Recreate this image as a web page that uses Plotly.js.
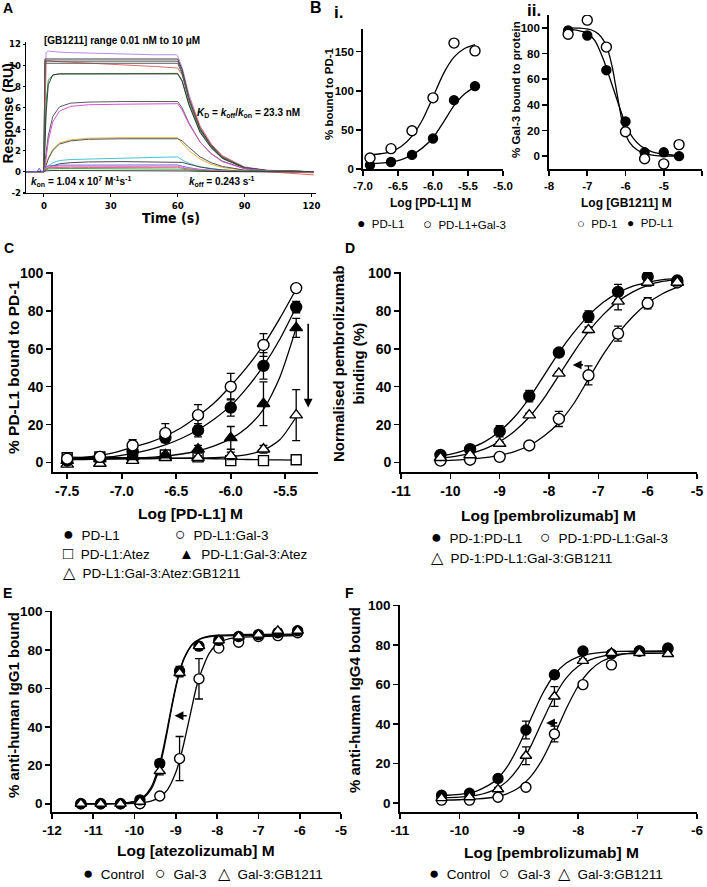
<!DOCTYPE html>
<html><head><meta charset="utf-8">
<script src="https://cdn.plot.ly/plotly-3.0.1.min.js"></script>
<style>html,body{margin:0;padding:0;background:#fff}#g{width:707px;height:887px}</style>
</head><body><div id="g"></div>
<script>
// ---------------- DATA ----------------
// Panel A (SPR sensorgrams)
const A_time = [-8, 0, 0.5, 1, 2, 4, 7, 12, 20, 35, 50, 59.5, 60, 62, 65, 70, 75, 80, 90, 100, 110, 121];
const A_s1  = [0, 0, 6, 11.2, 11.35, 11.3, 11.25, 11.2, 11.15, 11.1, 11.0, 11.0, 10.9, 9.8, 7.3, 4.3, 2.6, 1.5, 0.45, 0.15, 0.05, 0.0];
const A_s2  = [0, 0, 10.6, 10.6, 10.6, 10.6, 10.6, 10.6, 10.6, 10.6, 10.6, 10.6, 10.6, 9.6, 7.0, 4.1, 2.5, 1.4, 0.4, 0.12, 0.04, 0.0];
const A_s3  = [0, 0, 5, 10.5, 10.45, 10.4, 10.35, 10.3, 10.2, 10.05, 9.9, 9.8, 9.75, 9.1, 7.0, 4.3, 2.6, 1.5, 0.4, 0.0, -0.15, -0.3];
const A_s4  = [0, 0, 10.4, 10.4, 10.4, 10.4, 10.4, 10.4, 10.4, 10.4, 10.4, 10.4, 10.4, 9.4, 6.9, 4.0, 2.45, 1.35, 0.38, 0.1, 0.03, 0];
const A_s5  = [0, 0, 10.2, 10.2, 10.2, 10.2, 10.2, 10.2, 10.2, 10.2, 10.2, 10.2, 10.2, 9.2, 6.7, 3.9, 2.4, 1.3, 0.37, 0.1, 0.03, 0];
const A_s6  = [0, 0, 3, 6.5, 8.6, 9.1, 9.2, 9.2, 9.2, 9.25, 9.25, 9.25, 9.25, 8.6, 6.4, 3.8, 2.3, 1.3, 0.35, 0.1, 0.02, 0];
const A_s7  = [0, 0, 2.5, 5.5, 8.2, 9.1, 9.2, 9.2, 9.2, 9.2, 9.2, 9.2, 9.2, 8.5, 6.3, 3.7, 2.25, 1.25, 0.35, 0.1, 0.03, 0];
const A_s8  = [0, 0, 0.9, 1.9, 3.4, 5.2, 6.1, 6.45, 6.55, 6.6, 6.6, 6.6, 6.6, 6.0, 4.6, 2.8, 1.7, 1.0, 0.3, 0.09, 0.03, 0];
const A_s9  = [0, 0, 0.4, 1.3, 2.9, 4.7, 5.7, 6.15, 6.3, 6.35, 6.4, 6.4, 6.4, 5.8, 4.5, 2.8, 1.7, 0.95, 0.28, 0.08, 0.02, 0];
const A_s10 = [0, 0, 0.3, 0.7, 1.3, 2.1, 2.7, 3.0, 3.15, 3.2, 3.2, 3.2, 3.2, 2.7, 2.0, 1.2, 0.7, 0.4, 0.12, 0.04, 0, 0];
const A_s11 = [0, 0, 0.3, 0.6, 1.2, 2.0, 2.6, 2.9, 3.05, 3.1, 3.1, 3.1, 3.1, 2.9, 2.3, 1.4, 0.85, 0.5, 0.15, 0.05, 0.02, 0];
const A_s12 = [0, 0, 0.1, 0.3, 0.55, 0.85, 1.05, 1.15, 1.2, 1.3, 1.35, 1.4, 1.4, 1.1, 0.8, 0.45, 0.28, 0.16, 0.05, 0.02, 0, 0];
const A_s13 = [0, 0, 0.1, 0.2, 0.35, 0.55, 0.75, 0.85, 0.92, 0.95, 0.95, 0.95, 0.95, 0.88, 0.7, 0.45, 0.28, 0.17, 0.05, 0.02, 0, 0];
const A_s14 = [0, 0, 0.25, 0.45, 0.55, 0.6, 0.62, 0.62, 0.63, 0.63, 0.64, 0.64, 0.64, 0.52, 0.38, 0.22, 0.13, 0.08, 0.02, 0, 0, 0];
const A_s15 = [0, 0, 0.2, 0.35, 0.45, 0.5, 0.52, 0.52, 0.5, 0.5, 0.52, 0.52, 0.52, 0.42, 0.3, 0.18, 0.1, 0.06, 0.02, 0, 0, 0];
const A_s16 = [0, 0, 0.15, 0.3, 0.38, 0.4, 0.42, 0.42, 0.4, 0.4, 0.42, 0.42, 0.42, 0.33, 0.24, 0.14, 0.08, 0.05, 0.02, 0, -0.05, -0.1];
const A_s17 = [0, 0, 0.1, 0.2, 0.27, 0.3, 0.3, 0.3, 0.3, 0.3, 0.3, 0.3, 0.3, 0.24, 0.17, 0.1, 0.06, 0.04, 0.01, 0, 0, 0];
const A_s18 = [0, 0, 0.05, 0.08, 0.1, 0.12, 0.12, 0.12, 0.12, 0.12, 0.12, 0.12, 0.12, 0.1, 0.07, 0.04, 0.02, 0.01, 0, 0, 0, 0];
const A_bump_t = [-8, -3, -2, -1.3, 0];
const A_bump_v = [0, 0.02, 0.35, 0.02, 0];
const A_xticks = ['0', '30', '60', '90', '120'];
const A_yticks = ['-2', '0', '2', '4', '6', '8', '10', '12'];

// Panel B i
const Bi_x = [-6.9, -6.6, -6.3, -6.0, -5.7, -5.4];
const Bi_pdl1 = [5, 9, 18, 39, 88, 106];
const Bi_pdl1gal3 = [14, 26, 49, 91, 161, 151];
const Bi_fit_x = [-6.9, -6.75, -6.6, -6.45, -6.3, -6.15, -6.0, -5.85, -5.7, -5.55, -5.4];
const Bi_fit_pdl1 = [7, 7.5, 9, 12, 18, 27, 40, 60, 81, 96, 105];
const Bi_fit_pdl1gal3 = [18, 19.5, 22, 29, 42, 63, 92, 122, 143, 154, 159];
const Bi_names = ['PD-L1', 'PD-L1+Gal-3'];
const Bi_xticks = ['-7.0', '-6.5', '-6.0', '-5.5', '-5.0'];
const Bi_yticks = ['0', '50', '100', '150'];

// Panel B ii
const Bii_x = [-7.5, -7.0, -6.5, -6.0, -5.5, -5.0, -4.6];
const Bii_pd1 = [95, 106, 85, 19, -2, -6, 9];
const Bii_pdl1 = [98, 94, 67, 27, 3, 3, 0];
const Bii_fit_x_pd1 = [-7.5, -7.2, -6.9, -6.7, -6.5, -6.35, -6.2, -6.05, -5.9, -5.7, -5.5, -5.2, -4.6];
const Bii_fit_pd1 = [100, 99.8, 98.5, 95, 86, 70, 45, 22, 11, 5, 2, 0.5, 0];
const Bii_fit_x_pdl1 = [-7.5, -7.25, -7.0, -6.8, -6.6, -6.4, -6.2, -6.0, -5.8, -5.6, -5.35, -5.0, -4.6];
const Bii_fit_pdl1 = [99, 98, 96, 90, 77, 60, 42, 25, 14, 8, 4, 1.5, 0.5];
const Bii_names = ['PD-1', 'PD-L1'];
const Bii_xticks = ['-8', '-7', '-6', '-5', '-4'];
const Bii_yticks = ['0', '20', '40', '60', '80', '100'];

// Panel C
const C_x = [-7.5, -7.2, -6.9, -6.6, -6.3, -6.0, -5.7, -5.4];
const C_pdl1 = [1, 3, 6, 13, 17, 29, 51, 82];
const C_pdl1_err = [0.5, 1, 2, 1.5, 3.5, 4.5, 7, 3];
const C_gal3 = [2, 3, 9, 15.5, 25, 40, 62, 92];
const C_gal3_err = [0.5, 1, 3, 5, 5.5, 7, 6, 1];
const C_atez = [2.5, 3, 3, 4, 3, 1, 1, 1.5];
const C_atez_err = [1.5, 1, 0.5, 2, 1, 0.5, 0.5, 0.5];
const C_gal3atez = [1, 2, 3, 4, 7, 13, 31, 71];
const C_gal3atez_err = [1, 1, 1, 1, 2, 6, 11.5, 5];
const C_gb1211 = [-1, -0.5, 1, 2.5, 2.5, 3.5, 7, 25];
const C_gb1211_err = [1, 1, 1, 1, 1, 2, 2, 13.5];
const C_fit_x = [-7.5, -7.35, -7.2, -7.05, -6.9, -6.75, -6.6, -6.45, -6.3, -6.15, -6.0, -5.85, -5.7, -5.55, -5.4];
const C_fit_pdl1 = [1.5, 1.9, 2.5, 3.4, 4.8, 6.7, 9.3, 12.8, 17.3, 23, 30, 39.5, 51, 65, 82];
const C_fit_gal3 = [2, 2.7, 3.8, 5.5, 8, 10.5, 14, 18.5, 24.5, 31.5, 40.5, 50.5, 62, 76, 91.5];
const C_fit_atez = [2.8, 2.75, 2.7, 2.65, 2.6, 2.5, 2.4, 2.3, 2.2, 2.0, 1.8, 1.6, 1.5, 1.4, 1.3];
const C_fit_gal3atez = [1.5, 1.6, 1.7, 1.9, 2.2, 2.7, 3.4, 4.5, 6.2, 8.8, 12.6, 18.5, 28, 45, 71];
const C_fit_gb1211 = [2, 2, 2, 2, 2, 2, 2.1, 2.2, 2.3, 2.6, 3.1, 4.2, 6.5, 12, 24];
const C_names = ['PD-L1', 'PD-L1:Gal-3', 'PD-L1:Atez', 'PD-L1:Gal-3:Atez', 'PD-L1:Gal-3:Atez:GB1211'];
const C_xticks = ['-7.5', '-7.0', '-6.5', '-6.0', '-5.5'];
const C_yticks = ['0', '20', '40', '60', '80', '100'];

// Panel D
const D_x = [-10.2, -9.6, -9.0, -8.4, -7.8, -7.2, -6.6, -6.0, -5.4];
const D_pdl1 = [4, 7, 16.5, 35, 58, 77, 90, 98, 96];
const D_pdl1_err = [1.5, 1, 3, 3, 1.5, 3, 4, 2, 1];
const D_gal3 = [1, 1.5, 3, 9, 23, 46, 68, 84, 95];
const D_gal3_err = [0.5, 0.5, 0.5, 1, 4, 5, 4, 3, 1];
const D_gb = [2.5, 4, 10, 25, 47, 70, 85, 95, 95];
const D_gb_err = [1, 1, 1, 1, 1, 1.5, 4.5, 2, 1];
const D_fit_x = [-10.2, -9.9, -9.6, -9.3, -9.0, -8.7, -8.4, -8.1, -7.8, -7.5, -7.2, -6.9, -6.6, -6.3, -6.0, -5.7, -5.4];
const D_fit_pdl1 = [3.5, 5, 7.5, 11, 16.5, 24, 34, 46, 58, 68.5, 77.5, 84.5, 89.5, 93, 95, 96.5, 97];
const D_fit_gb = [2.2, 3.2, 4.8, 7.2, 11, 16.5, 24, 34, 46, 58, 69, 78, 85, 90, 93.5, 95.5, 96.5];
const D_fit_gal3 = [1, 1.3, 1.8, 2.6, 3.8, 5.8, 9, 14, 21, 31, 44, 57, 68, 77, 84, 89, 92.5];
const D_names = ['PD-1:PD-L1', 'PD-1:PD-L1:Gal-3', 'PD-1:PD-L1:Gal-3:GB1211'];
const D_xticks = ['-11', '-10', '-9', '-8', '-7', '-6', '-5'];
const D_yticks = ['0', '20', '40', '60', '80', '100'];

// Panel E
const E_x = [-11.3, -10.82, -10.34, -9.87, -9.39, -8.91, -8.44, -7.96, -7.48, -7.0, -6.53, -6.05];
const E_ctrl = [0, 0, 0, 2, 21, 69, 82, 85, 87, 88, 89, 90];
const E_ctrl_err = [0.5, 0.5, 0.5, 1, 2, 2.5, 1.5, 1, 1, 1, 1, 1];
const E_gal3 = [0, 0, 0, 0, 4, 23.5, 65, 81, 84, 87, 87.5, 89];
const E_gal3_err = [0.5, 0.5, 0.5, 0.5, 1, 11.5, 10.5, 1.5, 1, 1, 1, 1];
const E_gb = [0, 0, 0, 1, 17, 68, 82, 85, 87, 88, 90, 90];
const E_gb_err = [0.5, 0.5, 0.5, 0.5, 2, 2, 2, 1, 1, 1, 1, 1];
const E_fit_x = [-11.3, -10.5, -10.0, -9.8, -9.6, -9.4, -9.3, -9.2, -9.1, -9.0, -8.9, -8.8, -8.6, -8.4, -8.2, -8.0, -7.5, -7.0, -6.05];
const E_fit_ctrl = [0, 0.1, 1.2, 3.3, 8.5, 20.3, 29.2, 40, 51, 61.3, 69.7, 75.8, 82.9, 85.8, 86.9, 87.3, 87.5, 87.6, 87.7];
const E_fit_gb = [0, 0.1, 1, 2.8, 7.5, 18.5, 27.5, 38.5, 50, 60.5, 69, 75.5, 83, 86, 87.2, 87.7, 88, 88.1, 88.2];
const E_fit_x_gal3 = [-11.3, -10.5, -10.0, -9.8, -9.6, -9.4, -9.2, -9.0, -8.9, -8.8, -8.7, -8.6, -8.5, -8.4, -8.2, -8.0, -7.7, -7.4, -7.0, -6.05];
const E_fit_gal3 = [0, 0.05, 0.23, 0.57, 1.4, 3.3, 7.4, 16.4, 23.3, 32, 41.6, 51.5, 60.9, 67.7, 78, 83.1, 85.9, 86.6, 87.0, 87.5];
const E_names = ['Control', 'Gal-3', 'Gal-3:GB1211'];
const E_xticks = ['-12', '-11', '-10', '-9', '-8', '-7', '-6', '-5'];
const E_yticks = ['0', '20', '40', '60', '80', '100'];

// Panel F
const F_x = [-10.3, -9.83, -9.35, -8.88, -8.4, -7.92, -7.44, -6.97, -6.49];
const F_ctrl = [4, 5, 12.5, 37, 65, 77, 75.5, 77, 78];
const F_ctrl_err = [1, 1, 1, 4.5, 1.5, 1, 1, 1, 1];
const F_gal3 = [1.5, 1.5, 3, 8, 35, 60, 70, 77, 78.5];
const F_gal3_err = [0.5, 0.5, 0.5, 0.5, 4, 1, 1, 1, 1];
const F_gb = [2.5, 3, 7, 24, 54, 72, 76, 76, 75.5];
const F_gb_err = [0.5, 0.5, 1, 4.5, 5, 1, 1, 1, 1];
const F_fit_x = [-10.3, -10.0, -9.7, -9.4, -9.2, -9.0, -8.8, -8.6, -8.4, -8.2, -8.0, -7.8, -7.6, -7.3, -7.0, -6.49];
const F_fit_ctrl = [3.8, 4.4, 6.2, 11.2, 18.2, 29, 42.5, 55.4, 65, 70.9, 74, 75.5, 76.3, 76.8, 76.9, 77];
const F_fit_gb = [2.7, 3.0, 4.0, 6.9, 11.0, 18.1, 28.7, 41.7, 54, 63.4, 69.3, 72.5, 74.3, 75.4, 75.8, 76];
const F_fit_gal3 = [1.5, 1.7, 2.1, 3.1, 4.7, 7.8, 13.4, 22.3, 34.5, 47.9, 59.3, 67.1, 71.8, 75.1, 76.3, 76.9];
const F_names = ['Control', 'Gal-3', 'Gal-3:GB1211'];
const F_xticks = ['-11', '-10', '-9', '-8', '-7', '-6'];
const F_yticks = ['0', '20', '40', '60', '80', '100'];

// ---------------- STYLE / LAYOUT ----------------
const W = 707, H = 887;
const FONT = 'Liberation Sans, Arial, sans-serif';
const NARROW = 'DejaVu Sans Condensed, Liberation Sans Narrow, Arial Narrow, Liberation Sans, sans-serif';
const px = v => v / W;
const py = v => 1 - v / H;

function axis(l, r, range, anchor, tickvals, ticktext, fs, extra) {
  return Object.assign({
    domain: [px(l), px(r)], range: range, anchor: anchor,
    showline: true, linecolor: '#000', linewidth: 1.8, mirror: false,
    ticks: 'outside', ticklen: 5, tickwidth: 1.6, tickcolor: '#000',
    showgrid: false, zeroline: false, fixedrange: true,
    tickmode: 'array', tickvals: tickvals, ticktext: ticktext,
    tickfont: {family: FONT, size: fs, color: '#000', weight: 700}
  }, extra || {});
}
function yaxis(t, b, range, anchor, tickvals, ticktext, fs, extra) {
  const a = axis(0, 1, range, anchor, tickvals, ticktext, fs, extra);
  a.domain = [py(b), py(t)];
  return a;
}
const num = arr => arr.map(Number);
const A_tickfont = {family: NARROW, size: 9.5, color: '#000', weight: 700};

const layout = {
  width: W, height: H, margin: {l: 0, r: 0, t: 0, b: 0},
  paper_bgcolor: '#fff', plot_bgcolor: 'rgba(0,0,0,0)', showlegend: false,
  xaxis:  axis(26, 316, [-8, 122], 'y', num(A_xticks), A_xticks, 10, {tickfont: A_tickfont, ticklen: 3, linewidth: 1.1, tickwidth: 1.1}),
  yaxis:  yaxis(42, 193, [-2, 12.2], 'x', num(A_yticks), A_yticks, 10, {tickfont: A_tickfont, ticklen: 2, linewidth: 1.1, tickwidth: 1.1}),
  xaxis2: axis(363, 503, [-7, -5], 'y2', num(Bi_xticks), Bi_xticks, 11.5),
  yaxis2: yaxis(29, 169, [0, 179], 'x2', num(Bi_yticks), Bi_yticks, 11.5),
  xaxis3: axis(549, 702, [-8, -4], 'y3', num(Bii_xticks), Bii_xticks, 11.5),
  yaxis3: yaxis(15, 169, [-10, 110], 'x3', num(Bii_yticks), Bii_yticks, 11.5),
  xaxis4: axis(53, 318, [-7.63, -5.2], 'y4', num(C_xticks), C_xticks, 14),
  yaxis4: yaxis(272, 472, [-5, 100.5], 'x4', num(C_yticks), C_yticks, 14),
  xaxis5: axis(401, 697, [-11, -5], 'y5', num(D_xticks), D_xticks, 14),
  yaxis5: yaxis(272, 472, [-5, 100.5], 'x5', num(D_yticks), D_yticks, 14),
  xaxis6: axis(52, 341, [-12, -5], 'y6', num(E_xticks), E_xticks, 13.5),
  yaxis6: yaxis(611, 812, [-4.3, 100.3], 'x6', num(E_yticks), E_yticks, 13.5),
  xaxis7: axis(400, 697, [-11, -6], 'y7', num(F_xticks), F_xticks, 13.5),
  yaxis7: yaxis(605, 812, [-4.5, 100.3], 'x7', num(F_yticks), F_yticks, 13.5),
  annotations: []
};

// ---------------- TRACES ----------------
const traces = [];
// Panel A
const A_series = [A_s1, A_s2, A_s3, A_s4, A_s5, A_s6, A_s7, A_s8, A_s9, A_s10, A_s11, A_s12, A_s13, A_s14, A_s15, A_s16, A_s17, A_s18];
const A_colors = ['#b98be3', '#3a3a3a', '#e26a6a', '#4a4a4a', '#5a5a5a', '#2f9a3f', '#3a3a3a', '#5a5a5a', '#d455d4', '#e2b43a', '#555555', '#43c6d6', '#4a4a4a', '#6f63e0', '#e37ae3', '#e06868', '#46a646', '#333333'];
A_series.forEach((s, i) => traces.push({x: A_time, y: s, mode: 'lines', line: {color: A_colors[i], width: 1}, xaxis: 'x', yaxis: 'y', hoverinfo: 'skip'}));
traces.push({x: A_bump_t, y: A_bump_v, mode: 'lines', line: {color: '#7a5ae0', width: 1}, xaxis: 'x', yaxis: 'y'});

function fit(x, y, ax) {
  traces.push({x: x, y: y, mode: 'lines', line: {color: '#000', width: 1.3, shape: 'spline', smoothing: 0.7}, xaxis: 'x' + ax, yaxis: 'y' + ax, hoverinfo: 'skip'});
}
function pts(x, y, err, ax, symbol, filled, size) {
  const t = {x: x, y: y, mode: 'markers', xaxis: 'x' + ax, yaxis: 'y' + ax,
    marker: {symbol: symbol, size: size, color: filled ? '#000' : '#fff', line: {color: '#000', width: 1.4}}};
  if (err) t.error_y = {type: 'data', array: err, visible: true, color: '#000', thickness: 1.3, width: 4};
  traces.push(t);
}
// Bi
fit(Bi_fit_x, Bi_fit_pdl1, 2); fit(Bi_fit_x, Bi_fit_pdl1gal3, 2);
pts(Bi_x, Bi_pdl1, null, 2, 'circle', true, 9);
pts(Bi_x, Bi_pdl1gal3, null, 2, 'circle', false, 10);
// Bii
fit(Bii_fit_x_pd1, Bii_fit_pd1, 3); fit(Bii_fit_x_pdl1, Bii_fit_pdl1, 3);
pts(Bii_x, Bii_pdl1, null, 3, 'circle', true, 9);
pts(Bii_x, Bii_pd1, null, 3, 'circle', false, 10);
// C
fit(C_fit_x, C_fit_gal3, 4); fit(C_fit_x, C_fit_pdl1, 4); fit(C_fit_x, C_fit_gal3atez, 4);
fit(C_fit_x, C_fit_gb1211, 4); fit(C_fit_x, C_fit_atez, 4);
pts(C_x, C_atez, C_atez_err, 4, 'square', false, 10);
pts(C_x, C_gb1211, C_gb1211_err, 4, 'triangle-up', false, 11);
pts(C_x, C_gal3atez, C_gal3atez_err, 4, 'triangle-up', true, 11);
pts(C_x, C_pdl1, C_pdl1_err, 4, 'circle', true, 11);
pts(C_x, C_gal3, C_gal3_err, 4, 'circle', false, 11);
// D
fit(D_fit_x, D_fit_pdl1, 5); fit(D_fit_x, D_fit_gb, 5); fit(D_fit_x, D_fit_gal3, 5);
pts(D_x, D_gal3, D_gal3_err, 5, 'circle', false, 11);
pts(D_x, D_pdl1, D_pdl1_err, 5, 'circle', true, 11);
pts(D_x, D_gb, D_gb_err, 5, 'triangle-up', false, 11);
// E
fit(E_fit_x, E_fit_ctrl, 6); fit(E_fit_x, E_fit_gb, 6); fit(E_fit_x_gal3, E_fit_gal3, 6);
pts(E_x, E_gal3, E_gal3_err, 6, 'circle', false, 10);
pts(E_x, E_ctrl, E_ctrl_err, 6, 'circle', true, 10);
pts(E_x, E_gb, E_gb_err, 6, 'triangle-up', false, 10);
// F
fit(F_fit_x, F_fit_ctrl, 7); fit(F_fit_x, F_fit_gb, 7); fit(F_fit_x, F_fit_gal3, 7);
pts(F_x, F_gal3, F_gal3_err, 7, 'circle', false, 10);
pts(F_x, F_ctrl, F_ctrl_err, 7, 'circle', true, 10);
pts(F_x, F_gb, F_gb_err, 7, 'triangle-up', false, 10);

// ---------------- ANNOTATIONS ----------------
const A = layout.annotations;
function txt(text, x, y, size, opts) {
  A.push(Object.assign({text: text, x: px(x), y: py(y), xref: 'paper', yref: 'paper', showarrow: false,
    xanchor: 'center', yanchor: 'middle', font: {family: FONT, size: size, color: '#000'}}, opts || {}));
}
const bold = (s, f) => ({font: {family: f || FONT, size: s, color: '#000', weight: 700}});
function btxt(text, x, y, size, opts) { txt(text, x, y, size, Object.assign(bold(size), opts || {})); }
function rot(text, x, y, size) { btxt(text, x, y, size, {textangle: -90}); }
const NB = '\u00a0';
function leg(g, gsize, label, left, y, size) {
  txt('<span style="font-size:' + gsize + 'px">' + g + '</span>' + NB + NB + label, left, y, size, {xanchor: 'left'});
}
function arrow(axn, hx, hy, tx, ty) {
  A.push({xref: 'x' + axn, yref: 'y' + axn, axref: 'x' + axn, ayref: 'y' + axn, x: hx, y: hy, ax: tx, ay: ty,
    text: '', showarrow: true, arrowhead: 2, arrowsize: 1.1, arrowwidth: 1.6, arrowcolor: '#000'});
}

// panel letters
btxt('A', 8, 8, 14); btxt('B', 316, 8, 16); btxt('i.', 338, 12, 17); btxt('ii.', 534, 10, 17);
btxt('C', 9, 248, 14); btxt('D', 350, 248, 14); btxt('E', 7, 593, 14); btxt('F', 349, 593, 14);

// Panel A texts
rot('Response (RU)', 7.5, 114, 14);
btxt('Time (s)', 171, 218, 14, bold(14, NARROW));
btxt('[GB1211] range 0.01 nM to 10 μM', 42, 41, 10, {xanchor: 'left'});
btxt('<i>K</i><sub>D</sub> = <i>k</i><sub>off</sub>/<i>k</i><sub>on</sub> = 23.3 nM', 195, 113, 10, {xanchor: 'left'});
btxt('<i>k</i><sub>on</sub> = 1.04 x 10<sup>7</sup> M<sup>-1</sup>s<sup>-1</sup>', 29, 182, 10, {xanchor: 'left'});
btxt('<i>k</i><sub>off</sub> = 0.243 s<sup>-1</sup>', 187, 182, 10, {xanchor: 'left'});

// Panel B texts
rot('% bound to PD-1', 329, 94, 11.5);
btxt('Log [PD-L1] M', 430, 203, 12);
leg('●', 14, Bi_names[0], 355, 223, 11.5);
leg('○', 15, Bi_names[1], 421, 223, 11.5);
rot('% Gal-3 bound to protein', 516, 90, 11.5);
btxt('Log [GB1211] M', 626, 203, 12);
leg('○', 13, Bii_names[0], 575, 223, 11.5);
leg('●', 12, Bii_names[1], 625, 223, 11.5);

// Panel C texts
rot('% PD-L1 bound to PD-1', 13, 368, 15.5);
btxt('Log [PD-L1] M', 190, 513, 15.5);
leg('●', 18, C_names[0], 61, 534, 13.5);
leg('○', 18, C_names[1], 173, 534, 13.5);
leg('□', 17, C_names[2], 61, 553, 13.5);
leg('▲', 15, C_names[3], 177, 553, 13.5);
leg('△', 16, C_names[4], 61, 572, 13.5);
arrow(4, -5.29, 29, -5.29, 74);

// Panel D texts
btxt('Normalised pembrolizumab<br>binding (%)', 348, 364, 15, {textangle: -90});
btxt('Log [pembrolizumab] M', 548, 515, 15.5);
leg('●', 18, D_names[0], 429, 537, 13.5);
leg('○', 18, D_names[1], 538, 537, 13.5);
leg('△', 16, D_names[2], 429, 557, 13.5);
arrow(5, -7.52, 51.5, -7.28, 51.5);

// Panel E texts
rot('% anti-human IgG1 bound', 13, 705, 15);
btxt('Log [atezolizumab] M', 196, 850, 15.5);
leg('●', 17, E_names[0], 81, 873, 13.5);
leg('○', 18, E_names[1], 153, 873, 13.5);
leg('△', 16, E_names[2], 216, 873, 13.5);
arrow(6, -9.03, 45.8, -8.7, 45.8);

// Panel F texts
rot('% anti-human IgG4 bound', 354, 700, 15);
btxt('Log [pembrolizumab] M', 551, 852, 15.5);
leg('●', 17, F_names[0], 427, 873, 13.5);
leg('○', 18, F_names[1], 497, 873, 13.5);
leg('△', 16, F_names[2], 556, 873, 13.5);
arrow(7, -8.54, 40.6, -8.33, 40.6);

Plotly.newPlot('g', traces, layout, {staticPlot: true, displayModeBar: false});
</script>
</body></html>
